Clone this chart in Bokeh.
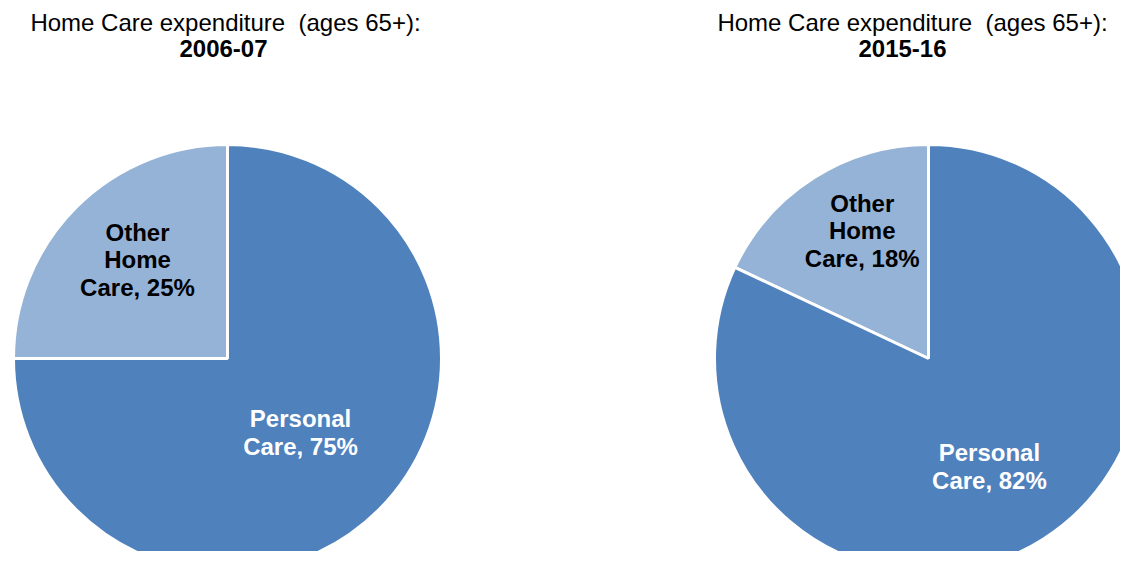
import math
from bokeh.plotting import figure
from bokeh.models import Range1d, ColumnDataSource
from bokeh.core.properties import value
from bokeh.embed import file_html
from bokeh.resources import INLINE

# ---- data ----
years = ["2006-07", "2015-16"]
categories = ["Other Home Care", "Personal Care"]
label_lines_other = [["Other", "Home", "Care, 25%"], ["Other", "Home", "Care, 18%"]]
label_lines_personal = [["Personal", "Care, 75%"], ["Personal", "Care, 82%"]]
other_share = [25, 18]
personal_share = [75, 82]
title_text = "Home Care expenditure \u00a0(ages 65+):"

# ---- layout / style ----
W, H = 1120, 551
centers_x = [227, 928]
center_y = 193
radius = 214
col_other = "#95B3D7"
col_personal = "#4F81BD"
FONT = value("Liberation Sans")
LINE_STEP = 27.5

p = figure(width=W, height=H, output_backend="svg", toolbar_location=None,
           x_range=Range1d(0, W), y_range=Range1d(0, H),
           x_axis_type=None, y_axis_type=None, min_border=0)
p.grid.visible = False
p.outline_line_color = None
p.background_fill_color = "white"

# label placement: (radius fraction, angle nudge in degrees) per pie
other_lab = [(0.625, -2.7), (0.673, -5.0)]
pers_lab = [(0.486, -0.4), (0.58, -3.0)]

xs, starts, ends, colors = [], [], [], []
lab_x, lab_y, lab_t, lab_c = [], [], [], []


def add_label(cx, ang, frac, nudge, lines, color):
    a = ang + math.radians(nudge)
    bx = cx + frac * radius * math.cos(a)
    by = center_y + frac * radius * math.sin(a)
    n = len(lines)
    for k, t in enumerate(lines):
        lab_x.append(bx)
        lab_y.append(by + ((n - 1) / 2 - k) * LINE_STEP)
        lab_t.append(t)
        lab_c.append(color)


for i in range(2):
    o = other_share[i] / 100.0 * 2 * math.pi
    s0 = math.pi / 2
    xs += [centers_x[i], centers_x[i]]
    starts += [s0, s0 + o]
    ends += [s0 + o, s0 + 2 * math.pi]
    colors += [col_other, col_personal]
    mid_o = s0 + o / 2
    mid_p = s0 + o + (2 * math.pi - o) / 2
    add_label(centers_x[i], mid_o, other_lab[i][0], other_lab[i][1],
              label_lines_other[i], "black")
    add_label(centers_x[i], mid_p, pers_lab[i][0], pers_lab[i][1],
              label_lines_personal[i], "white")

src = ColumnDataSource(dict(x=xs, y=[center_y] * 4, s=starts, e=ends, c=colors))
p.wedge(x="x", y="y", radius=radius, start_angle="s", end_angle="e",
        direction="anticlock", fill_color="c", line_color="white", line_width=3,
        source=src)

lsrc = ColumnDataSource(dict(x=lab_x, y=lab_y, t=lab_t, c=lab_c))
p.text(x="x", y="y", text="t", text_color="c", source=lsrc,
       text_font=FONT, text_font_style="bold", text_font_size="24px",
       text_align="center", text_baseline="middle")

# titles
p.text(x=[225, 912], y=[529, 529], text=[title_text, title_text],
       text_font=FONT, text_font_size="24px", text_color="black",
       text_align="center", text_baseline="middle")
p.text(x=[223, 902], y=[503, 503], text=years,
       text_font=FONT, text_font_style="bold", text_font_size="24px",
       text_color="black", text_align="center", text_baseline="middle")

open("out.html", "w").write(file_html(p, INLINE))
